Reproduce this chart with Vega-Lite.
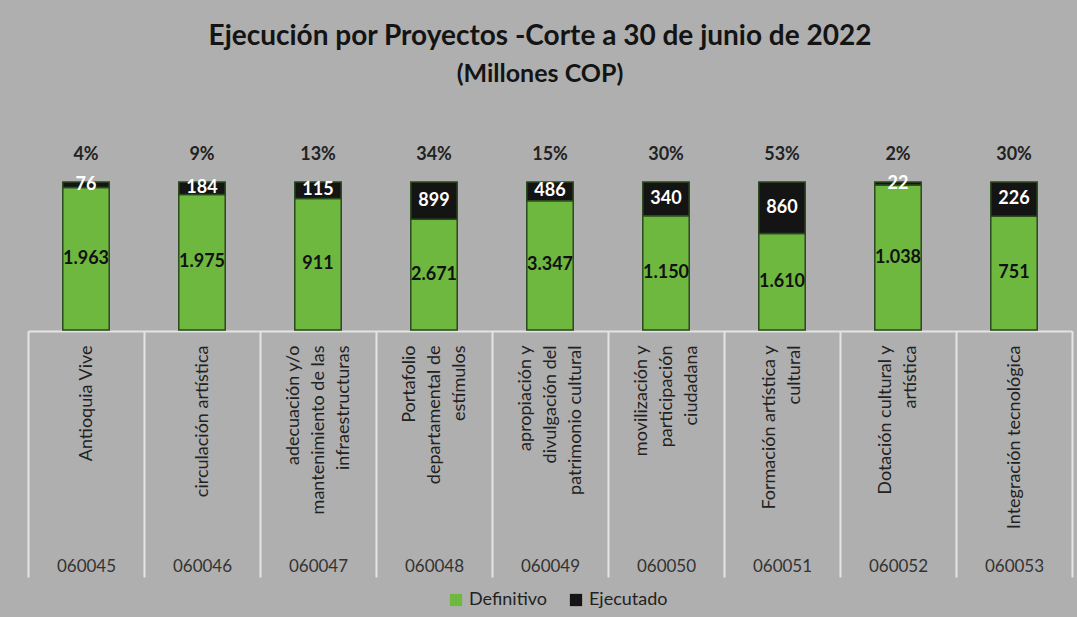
{
  "$schema": "https://vega.github.io/schema/vega-lite/v6.json",
  "width": 1044,
  "height": 148,
  "autosize": {"type": "none"},
  "padding": {"left": 28, "top": 182, "right": 5, "bottom": 287},
  "background": "#afafaf",
  "config": {
    "font": "Lato",
    "view": {"stroke": null},
    "locale": {"number": {"decimal": ",", "thousands": ".", "grouping": [3], "currency": ["$", ""], "percent": "%"}}
  },
  "title": {
    "text": "Ejecución por Proyectos -Corte a 30 de junio de 2022",
    "subtitle": "(Millones COP)",
    "font": "Lato",
    "fontSize": 28,
    "fontWeight": "bold",
    "color": "#141414",
    "subtitleFont": "Lato",
    "subtitleFontSize": 25,
    "subtitleFontWeight": "bold",
    "subtitleColor": "#141414",
    "subtitlePadding": 11,
    "anchor": "middle",
    "frame": "group",
    "offset": 59,
    "dx": -10
  },
  "datasets": {
    "barras": [
      {"codigo": "060045", "proyecto": "Antioquia Vive", "serie": "Definitivo", "valor": 1963},
      {"codigo": "060045", "proyecto": "Antioquia Vive", "serie": "Ejecutado", "valor": 76},
      {"codigo": "060046", "proyecto": "circulación artística", "serie": "Definitivo", "valor": 1975},
      {"codigo": "060046", "proyecto": "circulación artística", "serie": "Ejecutado", "valor": 184},
      {"codigo": "060047", "proyecto": "adecuación y/o~mantenimiento de las~infraestructuras", "serie": "Definitivo", "valor": 911},
      {"codigo": "060047", "proyecto": "adecuación y/o~mantenimiento de las~infraestructuras", "serie": "Ejecutado", "valor": 115},
      {"codigo": "060048", "proyecto": "Portafolio~departamental de~estímulos", "serie": "Definitivo", "valor": 2671},
      {"codigo": "060048", "proyecto": "Portafolio~departamental de~estímulos", "serie": "Ejecutado", "valor": 899},
      {"codigo": "060049", "proyecto": "apropiación y~divulgación del~patrimonio cultural", "serie": "Definitivo", "valor": 3347},
      {"codigo": "060049", "proyecto": "apropiación y~divulgación del~patrimonio cultural", "serie": "Ejecutado", "valor": 486},
      {"codigo": "060050", "proyecto": "movilización y~participación~ciudadana", "serie": "Definitivo", "valor": 1150},
      {"codigo": "060050", "proyecto": "movilización y~participación~ciudadana", "serie": "Ejecutado", "valor": 340},
      {"codigo": "060051", "proyecto": "Formación artística y~cultural", "serie": "Definitivo", "valor": 1610},
      {"codigo": "060051", "proyecto": "Formación artística y~cultural", "serie": "Ejecutado", "valor": 860},
      {"codigo": "060052", "proyecto": "Dotación cultural y~artística", "serie": "Definitivo", "valor": 1038},
      {"codigo": "060052", "proyecto": "Dotación cultural y~artística", "serie": "Ejecutado", "valor": 22},
      {"codigo": "060053", "proyecto": "Integración tecnológica", "serie": "Definitivo", "valor": 751},
      {"codigo": "060053", "proyecto": "Integración tecnológica", "serie": "Ejecutado", "valor": 226}
    ],
    "porcentajes": [
      {"codigo": "060045", "pct": 0.04},
      {"codigo": "060046", "pct": 0.09},
      {"codigo": "060047", "pct": 0.13},
      {"codigo": "060048", "pct": 0.34},
      {"codigo": "060049", "pct": 0.15},
      {"codigo": "060050", "pct": 0.30},
      {"codigo": "060051", "pct": 0.53},
      {"codigo": "060052", "pct": 0.02},
      {"codigo": "060053", "pct": 0.30}
    ]
  },
  "layer": [
    {
      "data": {"name": "barras"},
      "encoding": {
        "x": {
          "field": "proyecto",
          "type": "nominal",
          "sort": null,
          "scale": {"paddingInner": 0, "paddingOuter": 0},
          "axis": {
            "orient": "bottom",
            "offset": 1,
            "title": null,
            "labelExpr": "isValid(datum.value) ? split(datum.value, '~') : ''",
            "labelAngle": 270,
            "labelAlign": "right",
            "labelBaseline": "middle",
            "labelFont": "Lato",
            "labelFontSize": 18,
            "labelColor": "#222222",
            "labelLineHeight": 25,
            "labelPadding": -232,
            "labelOffset": {
              "condition": [
                {"test": "length(split(datum.value, '~')) == 3", "value": -25},
                {"test": "length(split(datum.value, '~')) == 2", "value": -12.5}
              ],
              "value": 0
            },
            "labelLimit": 0,
            "tickBand": "extent",
            "tickSize": 246,
            "tickColor": "#e4e4e4",
            "tickWidth": 2,
            "domainColor": "#e4e4e4",
            "domainWidth": 2
          }
        },
        "order": {"field": "serie", "sort": "ascending"}
      },
      "layer": [
        {
          "mark": {"type": "bar", "width": {"band": 0.4}, "stroke": "#2a4a1c", "strokeWidth": 1.5},
          "encoding": {
            "y": {"field": "valor", "type": "quantitative", "stack": "normalize", "axis": null},
            "color": {
              "field": "serie",
              "type": "nominal",
              "scale": {"domain": ["Definitivo", "Ejecutado"], "range": ["#6fb840", "#141414"]},
              "legend": {
                "orient": "none",
                "legendX": 419,
                "legendY": 409,
                "direction": "horizontal",
                "title": null,
                "padding": 0,
                "symbolType": "square",
                "symbolSize": 150,
                "symbolStrokeWidth": 0,
                "labelFont": "Lato",
                "labelFontSize": 18,
                "labelColor": "#222222",
                "labelOffset": 4,
                "columnPadding": 20
              }
            }
          }
        },
        {
          "mark": {"type": "text", "fontWeight": "bold", "fontSize": 18, "baseline": "middle"},
          "encoding": {
            "y": {"field": "valor", "type": "quantitative", "stack": "normalize", "bandPosition": 0.5},
            "detail": {"field": "serie"},
            "text": {"field": "valor", "type": "quantitative", "format": ",d"},
            "color": {"condition": {"test": "datum.serie === 'Ejecutado'", "value": "#ffffff"}, "value": "#111111"}
          }
        }
      ]
    },
    {
      "data": {"name": "porcentajes"},
      "mark": {"type": "text", "fontWeight": "bold", "fontSize": 18, "color": "#222222", "baseline": "alphabetic", "dy": -22},
      "encoding": {
        "x": {
          "field": "codigo",
          "type": "nominal",
          "sort": null,
          "scale": {"paddingInner": 0, "paddingOuter": 0},
          "axis": {
            "orient": "bottom",
            "offset": 234,
            "title": null,
            "domain": false,
            "ticks": false,
            "labelAngle": 0,
            "labelAlign": "center",
            "labelBaseline": "middle",
            "labelPadding": 2,
            "labelFont": "Lato",
            "labelFontSize": 17,
            "labelColor": "#333333"
          }
        },
        "y": {"datum": 1, "type": "quantitative"},
        "text": {"field": "pct", "type": "quantitative", "format": ".0%"}
      }
    }
  ],
  "resolve": {"scale": {"x": "independent"}}
}
